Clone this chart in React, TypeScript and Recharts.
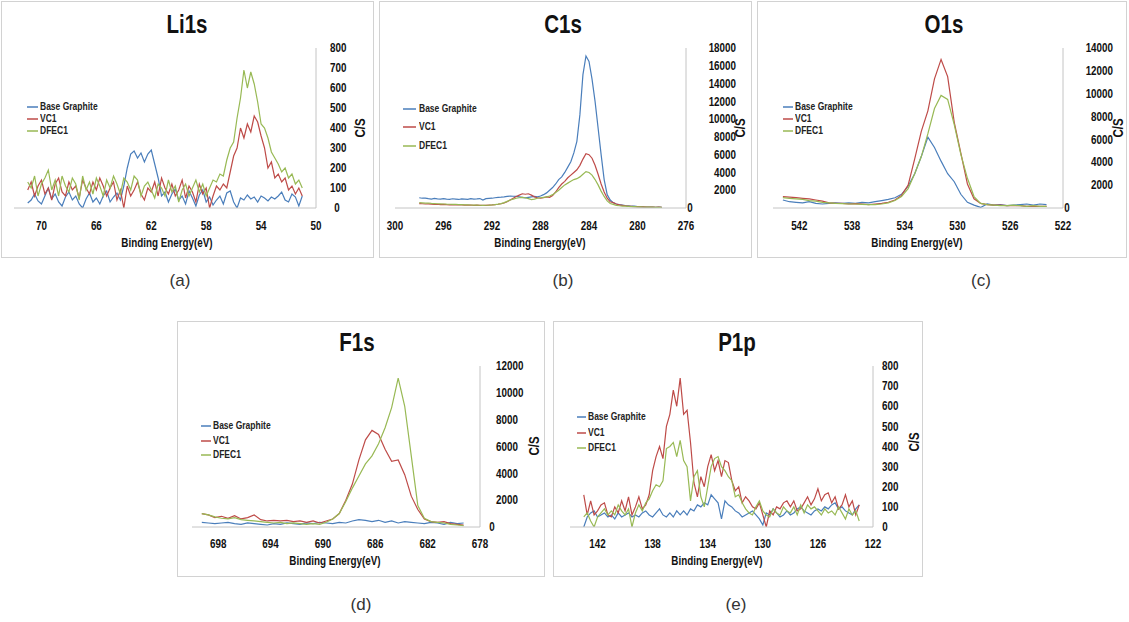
import { LineChart, Line, XAxis, YAxis, Legend } from "recharts";

const FONT = '"Liberation Sans", Arial, sans-serif';
const SQUEEZE = 0.82; // the source uses a narrow face
const INK = "#111";
const AXIS = "#c4c4c4";
const BLUE = "#4A7EBB";
const RED = "#BE4B48";
const GREEN = "#98B954";

const seriesNames = ["Base Graphite", "VC1", "DFEC1"];

// measurement grids (binding energy, eV, high -> low)
function grid(start: number, step: number, n: number) {
  return Array.from({ length: n }, (_, i) => Math.round((start - step * i) * 100) / 100);
}

// ---- Li1s ----
const li1sEnergy = grid(71, 0.25, 81);
const li1sBase = [
  25, 40, 70, 35, 20, 60, 100, 45, 70, 30, 10, 55, 80, 40, 60, 20, 0, 45, 75, 30,
  50, 20, 60, 85, 30, 55, 75, 40,
  110, 200, 270, 285, 250, 275, 230, 270, 290, 220, 150, 60,
  80, 30, 70, 95, 40, 60, 20, 85, 50, 10, 65, 90, 30, 55, 15, 40,
  60, 20, 75, 85, 30, 0, 50, 40,
  65, 45, 55, 30, 60, 50, 35, 55, 45, 60, 80, 40, 30, 70, 55, 10, 60,
];
const li1sVC1 = [
  90, 130, 60, 110, 140, 70, 100, 40, 120, 150, 80, 60, 130, 90, 110, 50, 140, 100, 70, 130,
  90, 150, 110, 60, 100, 130, 40, 90, 0, 110, 60, 90, 130, 70, 40, 100, 80, 130, 60, 150,
  100, 70, 120, 60, 90, 140, 50, 110, 80, 30, 120, 70, 100, 0, 60, 110,
  90, 120, 100, 180, 260, 300, 400, 350,
  420, 380, 460, 430, 360, 300, 200, 230, 150, 170, 130, 150, 90, 110, 70, 100, 60,
];
const li1sDFEC1 = [
  130, 100, 160, 60, 120, 150, 190, 90, 140, 60, 160, 110, 80, 150, 120, 40, 160, 90, 130, 70,
  150, 110, 60, 140, 100, 160, 120, 70, 150, 130, 90, 160, 140, 60, 110, 130, 90, 50, 120, 100,
  60, 140, 80, 110, 30, 90, 120, 60, 100, 140, 80, 120, 60, 100, 140, 130,
  170, 160, 240, 300, 330, 450, 550, 690,
  600, 680, 620, 530, 420, 400, 350, 280, 250, 220, 180, 200, 150, 170, 120, 140, 100,
];
const li1sTicksX = [50, 54, 58, 62, 66, 70];
const li1sTicksY = [0, 100, 200, 300, 400, 500, 600, 700, 800];

// ---- C1s ----
const c1sEnergy = grid(298, 0.25, 81);
const c1sBase = [
  1150, 1100, 1120, 1050, 1000, 1080, 1020, 1000, 1060, 1000, 980, 1040, 1000, 960, 1020, 1000, 980, 1050, 1000, 1020, 1060, 900, 1050, 1080,
  1100, 1150, 1200, 1220, 1250, 1300, 1350, 1320,
  1300, 1250, 1200, 1150, 1200, 1250, 1300, 1250, 1350, 1500, 1700, 2000, 2300, 2700, 3200, 3500,
  4000, 4600, 5200, 6200, 7500, 10500, 15000, 17100, 16500, 14500, 12000, 9000, 6000, 3200, 1500, 900,
  600, 450, 380, 330, 280, 250, 200, 200, 150, 150, 120, 100, 100, 100, 80, 100, 80,
];
const c1sVC1 = [
  500, 480, 450, 470, 430, 400, 420, 380, 400, 370, 350, 380, 360, 340, 350, 330, 320, 340, 300, 320, 300, 310, 300, 330,
  350, 380, 420, 480, 560, 700, 900, 1100,
  1300, 1450, 1600, 1550, 1600, 1450, 1250, 1150, 1100, 1150, 1250, 1200, 1400, 1800, 2300, 2700,
  3000, 3400, 3700, 4000, 4300, 4800, 5500, 6100, 6000, 5600, 4800, 3800, 2700, 1800, 1100, 700,
  600, 450, 350, 300, 250, 200, 180, 150, 150, 130, 120, 100, 100, 90, 80, 90, 80,
];
const c1sDFEC1 = [
  600, 580, 550, 560, 520, 500, 480, 470, 450, 430, 420, 400, 410, 380, 370, 360, 350, 340, 330, 320, 310, 300, 310, 320,
  340, 380, 430, 500, 600, 750, 900, 1000,
  1100, 1150, 1200, 1150, 1050, 950, 1000, 1100, 1150, 1200, 1250, 1350, 1500, 1750, 2000, 2300,
  2600, 2800, 3000, 3200, 3300, 3500, 3800, 4100, 4000, 3700, 3200, 2600, 1900, 1300, 800, 500,
  400, 300, 250, 220, 200, 180, 150, 150, 130, 120, 110, 100, 90, 90, 80, 80, 70,
];
const c1sTicksX = [276, 280, 284, 288, 292, 296, 300];
const c1sTicksY = [0, 2000, 4000, 6000, 8000, 10000, 12000, 14000, 16000, 18000];

// ---- O1s ----
const o1sEnergy = grid(543.25, 0.5, 41);
const o1sBase = [
  700, 550, 500, 450, 550, 400, 350, 400, 450, 400, 450, 400, 500, 450, 550, 650, 750, 900, 1200, 1900,
  3000, 4500, 6200, 5300, 4100, 3000, 2300, 1200, 500, 250, 50, 350, 250, 300, 200, 250, 300, 350, 250, 350, 300,
];
const o1sVC1 = [
  1000, 950, 900, 850, 800, 700, 600, 450, 400, 400, 350, 380, 350, 300, 350, 400, 500, 700, 1100, 2000,
  4300, 6700, 8500, 11300, 13000, 11500, 7500, 4800, 2100, 800, 400, 300, 250, 250, 200, 200, 200, 150, 150, 150, 150,
];
const o1sDFEC1 = [
  900, 850, 800, 750, 650, 600, 500, 450, 400, 380, 350, 350, 320, 300, 300, 350, 450, 650, 1000, 1700,
  3000, 4500, 6500, 8700, 9850, 9500, 7300, 4700, 2600, 1000, 400, 300, 250, 200, 200, 250, 200, 150, 200, 150, 150,
];
const o1sTicksX = [522, 526, 530, 534, 538, 542];
const o1sTicksY = [0, 2000, 4000, 6000, 8000, 10000, 12000, 14000];

// ---- F1s ----
const f1sEnergy = grid(699.25, 0.5, 41);
const f1sBase = [
  350, 300, 250, 300, 350, 250, 200, 300, 250, 200, 150, 250, 200, 300, 250, 200, 300, 250, 350, 300,
  250, 350, 300, 450, 550, 500, 400, 500, 350, 450, 300, 400, 350, 300, 250, 350, 300, 200, 350, 250, 300,
];
const f1sVC1 = [
  1000, 900, 700, 800, 650, 850, 600, 700, 900, 550, 450, 500, 450, 500, 400, 450, 350, 450, 300, 450,
  600, 1000, 2000, 3200, 5000, 6500, 7200, 6900, 5800, 4900, 5000, 3900, 2300, 1300, 600, 400, 350, 400, 250, 200, 150,
];
const f1sDFEC1 = [
  1000, 900, 750, 650, 600, 700, 550, 500, 450, 400, 350, 300, 350, 250, 300, 250, 200, 250, 200, 350,
  600, 1000, 1900, 2900, 3800, 4700, 5300, 6200, 7400, 8900, 11100, 9000, 5300, 1600, 650, 400, 350, 300, 200, 150, 100,
];
const f1sTicksX = [678, 682, 686, 690, 694, 698];
const f1sTicksY = [0, 2000, 4000, 6000, 8000, 10000, 12000];

// ---- P1p ----
const p1pEnergy = grid(143, 0.25, 81);
const p1pBase = [
  0, 50, 70, 80, 50, 60, 70, 50, 60, 40, 70, 50, 60, 70, 50, 60, 50, 70, 80, 60,
  50, 70, 90, 60, 50, 70, 50, 80, 60, 80, 60, 90, 80, 110, 100, 120, 110, 160, 140, 120,
  40, 130, 110, 100, 80, 70, 50, 60, 70, 80, 60, 40, 10, 70, 60, 90, 70, 50, 60, 80,
  60, 70, 90, 100, 80, 70, 60, 80, 90, 80, 100, 90, 110, 120, 90, 100, 80, 70, 60, 90, 110,
];
const p1pVC1 = [
  160, 60, 130, 60, 80, 110, 120, 60, 50, 100, 70, 130, 80, 150, 60, 100, 150, 90, 110, 160,
  280, 350, 400, 340, 500, 560, 680, 600, 740, 560, 580, 420, 220, 150, 250, 200, 300, 360, 280, 330,
  250, 330, 320, 230, 180, 200, 120, 150, 130, 100, 90, 120, 60, 0, 80, 60, 100, 90, 120, 130,
  100, 130, 80, 90, 120, 150, 110, 140, 190, 130, 160, 170, 120, 150, 90, 110, 160, 100, 130, 60, 110,
];
const p1pDFEC1 = [
  50, 70, 30, 0, 50, 70, 90, 60, 80, 60, 110, 80, 60, 90, 0, 70, 110, 80, 120, 140,
  180, 210, 200, 230, 390, 400, 420, 350, 430, 330, 300, 130, 250, 280, 150, 100, 200, 300, 340, 350,
  300, 280, 250, 230, 150, 160, 120, 90, 70, 60, 100, 130, 80, 60, 50, 90, 70, 60, 100, 80,
  70, 100, 60, 110, 70, 110, 90, 100, 80, 60, 90, 70, 80, 60, 100, 70, 40, 90, 60, 80, 30,
];
const p1pTicksX = [122, 126, 130, 134, 138, 142];
const p1pTicksY = [0, 100, 200, 300, 400, 500, 600, 700, 800];

type Box = { left: number; top: number; width: number; height: number };
type PanelCfg = {
  title: string;
  tag: string;
  frame: Box;
  plot: { left: number; top: number; right: number; bottom: number };
  energy: number[];
  base: number[];
  vc1: number[];
  dfec1: number[];
  xDomain: [number, number];
  xTicks: number[];
  yTicks: number[];
  yLabel: { anchor: "start" | "end"; x: number; zeroX: number };
  xLabelY: number;
  titlePos: [number, number];
  xTitlePos: [number, number];
  yTitlePos: [number, number];
  legend: { lineX: [number, number]; textX: number; rows: number[] };
  tagPos: [number, number];
};

const panels: PanelCfg[] = [
  {
    title: "Li1s", tag: "(a)",
    frame: { left: 1, top: 1, width: 373, height: 257 },
    plot: { left: 14, top: 48, right: 316, bottom: 208 },
    energy: li1sEnergy, base: li1sBase, vc1: li1sVC1, dfec1: li1sDFEC1,
    xDomain: [50, 72], xTicks: li1sTicksX, yTicks: li1sTicksY,
    yLabel: { anchor: "start", x: 330, zeroX: 337 },
    xLabelY: 225, titlePos: [187, 24], xTitlePos: [167, 243], yTitlePos: [360, 128],
    legend: { lineX: [27, 38], textX: 40, rows: [107, 119, 131] },
    tagPos: [180, 280],
  },
  {
    title: "C1s", tag: "(b)",
    frame: { left: 379, top: 1, width: 373, height: 257 },
    plot: { left: 395, top: 48, right: 686, bottom: 208 },
    energy: c1sEnergy, base: c1sBase, vc1: c1sVC1, dfec1: c1sDFEC1,
    xDomain: [276, 300], xTicks: c1sTicksX, yTicks: c1sTicksY,
    yLabel: { anchor: "end", x: 736, zeroX: 690 },
    xLabelY: 225, titlePos: [563, 24], xTitlePos: [540, 243], yTitlePos: [740, 128],
    legend: { lineX: [403, 416], textX: 419, rows: [109, 127, 146] },
    tagPos: [563, 280],
  },
  {
    title: "O1s", tag: "(c)",
    frame: { left: 757, top: 1, width: 370, height: 257 },
    plot: { left: 773, top: 48, right: 1063, bottom: 208 },
    energy: o1sEnergy, base: o1sBase, vc1: o1sVC1, dfec1: o1sDFEC1,
    xDomain: [522, 544], xTicks: o1sTicksX, yTicks: o1sTicksY,
    yLabel: { anchor: "end", x: 1113, zeroX: 1067 },
    xLabelY: 225, titlePos: [944, 24], xTitlePos: [917, 243], yTitlePos: [1118, 128],
    legend: { lineX: [783, 793], textX: 795, rows: [107, 119, 131] },
    tagPos: [981, 280],
  },
  {
    title: "F1s", tag: "(d)",
    frame: { left: 177, top: 321, width: 368, height: 256 },
    plot: { left: 192, top: 366, right: 480, bottom: 527 },
    energy: f1sEnergy, base: f1sBase, vc1: f1sVC1, dfec1: f1sDFEC1,
    xDomain: [678, 700], xTicks: f1sTicksX, yTicks: f1sTicksY,
    yLabel: { anchor: "start", x: 496, zeroX: 492 },
    xLabelY: 543, titlePos: [357, 342], xTitlePos: [335, 561], yTitlePos: [534, 446],
    legend: { lineX: [201, 211], textX: 213, rows: [426, 441, 455] },
    tagPos: [361, 604],
  },
  {
    title: "P1p", tag: "(e)",
    frame: { left: 553, top: 321, width: 370, height: 256 },
    plot: { left: 570, top: 366, right: 873, bottom: 527 },
    energy: p1pEnergy, base: p1pBase, vc1: p1pVC1, dfec1: p1pDFEC1,
    xDomain: [122, 144], xTicks: p1pTicksX, yTicks: p1pTicksY,
    yLabel: { anchor: "start", x: 882, zeroX: 885 },
    xLabelY: 543, titlePos: [737, 342], xTitlePos: [717, 561], yTitlePos: [914, 442],
    legend: { lineX: [577, 586], textX: 588, rows: [417, 433, 448] },
    tagPos: [736, 604],
  },
];

const centered = (x: number, y: number): React.CSSProperties => ({
  position: "absolute",
  left: x,
  top: y,
  transform: `translate(-50%, -50%) scaleX(${SQUEEZE})`,
  whiteSpace: "nowrap",
  lineHeight: 1,
  fontFamily: FONT,
  color: INK,
});

function Panel({ p }: { p: PanelCfg }) {
  const { frame, plot } = p;
  const data = p.energy.map((e, i) => ({ e, base: p.base[i], vc1: p.vc1[i], dfec1: p.dfec1[i] }));
  const AX = 8;
  const margin = {
    left: plot.left - frame.left,
    top: plot.top - frame.top,
    right: frame.left + frame.width - plot.right - AX,
    bottom: frame.top + frame.height - plot.bottom - AX,
  };

  const xTick = (props: any) => (
    <text
      transform={`translate(${props.x},${props.y}) scale(${SQUEEZE},1)`}
      dy="0.71em"
      textAnchor="middle"
      fontFamily={FONT}
      fontSize={12}
      fontWeight={700}
      fill={INK}
    >
      {props.payload.value}
    </text>
  );

  const yTick = (props: any) => {
    const v = props.payload.value;
    const zero = v === 0;
    const x = (zero ? p.yLabel.zeroX : p.yLabel.x) - frame.left;
    return (
      <text
        transform={`translate(${x},${props.y}) scale(${SQUEEZE},1)`}
        dy="0.35em"
        textAnchor={zero ? "middle" : p.yLabel.anchor}
        fontFamily={FONT}
        fontSize={12}
        fontWeight={700}
        fill={INK}
      >
        {v}
      </text>
    );
  };

  const legendContent = (props: any) => {
    const items = [...(props.payload || [])].sort(
      (a: any, b: any) => seriesNames.indexOf(a.value) - seriesNames.indexOf(b.value)
    );
    const [l0, l1] = p.legend.lineX;
    return (
      <div style={{ position: "relative" }}>
        {items.map((item: any, i: number) => (
          <div
            key={item.value}
            style={{
              position: "absolute",
              left: l0 - frame.left,
              top: p.legend.rows[i] - frame.top - 6,
              height: 12,
              display: "flex",
              alignItems: "center",
              whiteSpace: "nowrap",
            }}
          >
            <svg width={l1 - l0} height={12} style={{ display: "block" }}>
              <line x1={0} y1={6} x2={l1 - l0} y2={6} stroke={item.color} strokeWidth={1.5} />
            </svg>
            <span
              style={{
                display: "inline-block",
                marginLeft: p.legend.textX - l1,
                fontFamily: FONT,
                fontSize: 10,
                fontWeight: 700,
                color: "#222",
                lineHeight: "12px",
                transform: `scaleX(${SQUEEZE + 0.03})`,
                transformOrigin: "left center",
              }}
            >
              {item.value}
            </span>
          </div>
        ))}
      </div>
    );
  };

  return (
    <>
      <div
        style={{
          position: "absolute",
          left: frame.left,
          top: frame.top,
          width: frame.width,
          height: frame.height,
          border: "1px solid #d2d2d2",
          boxSizing: "border-box",
        }}
      />
      <div style={{ position: "absolute", left: frame.left, top: frame.top }}>
        <LineChart width={frame.width} height={frame.height} data={data} margin={margin}>
          <XAxis
            type="number"
            dataKey="e"
            domain={p.xDomain}
            ticks={p.xTicks}
            reversed
            interval={0}
            allowDataOverflow
            tickLine={false}
            tickSize={0}
            tickMargin={p.xLabelY - 4 - plot.bottom}
            axisLine={{ stroke: AXIS }}
            height={AX}
            tick={xTick}
          />
          <YAxis
            orientation="right"
            type="number"
            domain={[0, p.yTicks[p.yTicks.length - 1]]}
            ticks={p.yTicks}
            interval={0}
            allowDataOverflow
            tickLine={false}
            tickSize={0}
            axisLine={{ stroke: AXIS }}
            width={AX}
            tick={yTick}
          />
          <Line type="linear" dataKey="base" name={seriesNames[0]} stroke={BLUE} strokeWidth={1.2} dot={false} isAnimationActive={false} />
          <Line type="linear" dataKey="vc1" name={seriesNames[1]} stroke={RED} strokeWidth={1.2} dot={false} isAnimationActive={false} />
          <Line type="linear" dataKey="dfec1" name={seriesNames[2]} stroke={GREEN} strokeWidth={1.2} dot={false} isAnimationActive={false} />
          <Legend
            layout="vertical"
            align="center"
            verticalAlign="middle"
            wrapperStyle={{ left: 0, top: 0, width: 0, height: 0 }}
            content={legendContent}
          />
        </LineChart>
      </div>
      <div style={{ ...centered(p.titlePos[0], p.titlePos[1]), fontSize: 25, fontWeight: 700 }}>{p.title}</div>
      <div style={{ ...centered(p.xTitlePos[0], p.xTitlePos[1]), fontSize: 12, fontWeight: 700 }}>
        Binding Energy(eV)
      </div>
      <div
        style={{
          ...centered(p.yTitlePos[0], p.yTitlePos[1]),
          transform: `translate(-50%, -50%) rotate(-90deg) scaleX(${SQUEEZE})`,
          fontSize: 14,
          fontWeight: 700,
        }}
      >
        C/S
      </div>
      <div
        style={{
          ...centered(p.tagPos[0], p.tagPos[1]),
          transform: "translate(-50%, -50%)",
          fontSize: 17,
          color: "#333",
        }}
      >
        {p.tag}
      </div>
    </>
  );
}

export default function App() {
  return (
    <div style={{ position: "absolute", left: 0, top: 0, width: 1129, height: 622, background: "#fff", overflow: "hidden" }}>
      {panels.map((p) => (
        <Panel key={p.title} p={p} />
      ))}
    </div>
  );
}
